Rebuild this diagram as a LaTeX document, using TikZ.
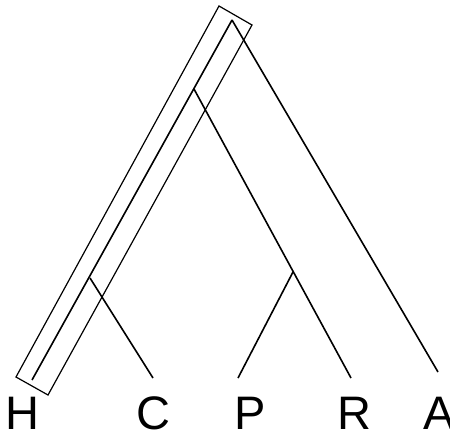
\documentclass[tikz,border=0pt]{standalone}
\usepackage{fontspec}
\setmainfont{Liberation Sans}
\begin{document}
\begin{tikzpicture}[x=1pt,y=-1pt,
  branch/.style={line width=1.6pt,black},
  leaf/.style={font=\fontsize{47}{47}\selectfont,inner sep=0pt,anchor=base}]
\useasboundingbox (0,0) rectangle (450,436);
\coordinate (root) at (232,20);
\coordinate (n1) at (194,89);
\coordinate (n2) at (293,272);
\coordinate (n3) at (90,278);
\coordinate (lH) at (32,380);
\coordinate (lC) at (153,378);
\coordinate (lP) at (238,378);
\coordinate (lR) at (351,378);
\coordinate (lA) at (438,372);
\draw[branch] (root) -- (lH);
\draw[branch] (root) -- (lA);
\draw[branch] (n1) -- (lR);
\draw[branch] (n2) -- (lP);
\draw[branch] (n3) -- (lC);
\draw[line width=1.2pt] (219,6) -- (252,25) -- (48,395) -- (16,377) -- cycle;
\node[leaf] (H) at (22,429.5) {H};
\node[leaf] (C) at (153,429.5) {C};
\node[leaf] (P) at (250,429.5) {P};
\node[leaf] (R) at (354,429.5) {R};
\node[leaf] (A) at (439,429.5) {A};
\end{tikzpicture}
\end{document}
